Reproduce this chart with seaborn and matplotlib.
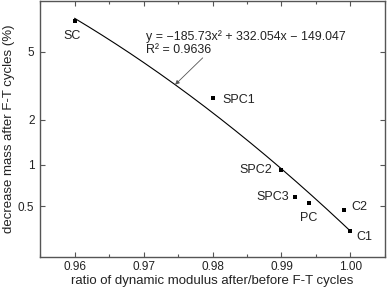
import matplotlib
matplotlib.use("Agg")
import matplotlib.pyplot as plt
from matplotlib.ticker import MultipleLocator, NullLocator
from statistics import NormalDist
import numpy as np
import pandas as pd
import seaborn as sns

# data
samples = ["SC", "SPC1", "SPC2", "SPC3", "PC", "C2", "C1"]
modulus_ratio = [0.960, 0.980, 0.990, 0.992, 0.994, 0.999, 1.000]
mass_loss = [7.2, 2.72, 0.92, 0.59, 0.525, 0.47, 0.323]

y_ticks = [0.5, 1, 2, 5]
y_ticklabels = ["0.5", "1", "2", "5"]
x_ticks = [0.96, 0.97, 0.98, 0.99, 1.00]
x_ticklabels = ["0.96", "0.97", "0.98", "0.99", "1.00"]

eq_text = "y = \u2212185.73x\u00b2 + 332.054x \u2212 149.047"
r2_text = "R\u00b2 = 0.9636"

df = pd.DataFrame({"sample": samples, "ratio": modulus_ratio, "loss": mass_loss})

# probability (probit) axis, like Origin's "Probability" scale
nd = NormalDist()
_ppf = np.vectorize(nd.inv_cdf, otypes=[float])
_cdf = np.vectorize(nd.cdf, otypes=[float])


def forward(v):
    p = np.clip(np.asarray(v, dtype=float) / 100.0, 1e-9, 1 - 1e-9)
    return _ppf(p)


def inverse(z):
    return _cdf(np.asarray(z, dtype=float)) * 100.0


# quadratic trend line fitted in probit space
coef = np.polyfit(df["ratio"], forward(df["loss"]), 2)
fit_x = np.linspace(df["ratio"].min(), df["ratio"].max(), 200)
fit = pd.DataFrame({"ratio": fit_x, "loss": inverse(np.polyval(coef, fit_x))})

sns.set_style("ticks")
plt.rcParams["font.family"] = ["Liberation Sans", "DejaVu Sans"]
txt = "#222222"
frame = "#555555"

fig = plt.figure(figsize=(3.87, 2.9), dpi=100)
ax = fig.add_axes([0.1034, 0.1155, 0.8914, 0.881])
ax.set_yscale("function", functions=(forward, inverse))

sns.lineplot(data=fit, x="ratio", y="loss", color="black", lw=0.8, ax=ax)
sns.scatterplot(data=df, x="ratio", y="loss", marker="s", s=12, color="black",
                edgecolor="black", linewidth=0, ax=ax, zorder=3)

# point labels
offsets = {
    "SC": (-1.7, -11, "center"),
    "SPC1": (7.2, -1.2, "left"),
    "SPC2": (-6.5, 0, "right"),
    "SPC3": (-4.3, 0, "right"),
    "PC": (0, -10.5, "center"),
    "C2": (5.8, 1.7, "left"),
    "C1": (4.1, -4.3, "left"),
}
for s, xv, yv in zip(samples, modulus_ratio, mass_loss):
    dx, dy, ha = offsets[s]
    ax.annotate(s, (xv, yv), xytext=(dx, dy), textcoords="offset points",
                ha=ha, va="center", fontsize=9, color=txt)

# equation and arrow
ax.text(0.97035, 6.0, eq_text, fontsize=8.9, color=txt, va="center", ha="left")
ax.text(0.97035, 5.1, r2_text, fontsize=8.9, color=txt, va="center", ha="left")
tip_x = 0.97458
tip_y = inverse(np.polyval(coef, tip_x))
ax.annotate("", xy=(tip_x, tip_y), xytext=(0.97858, 4.62),
            arrowprops=dict(arrowstyle="-|>", color="#555555", lw=0.6,
                            mutation_scale=6, shrinkA=0, shrinkB=0))

ax.set_xlim(0.955, 1.005)
ax.set_ylim(0.2, 9)
ax.set_xticks(x_ticks)
ax.set_xticklabels(x_ticklabels)
ax.xaxis.set_minor_locator(MultipleLocator(0.005))
ax.set_yticks(y_ticks)
ax.set_yticklabels(y_ticklabels)
ax.yaxis.set_minor_locator(NullLocator())

ax.tick_params(which="both", direction="in", top=True, right=True,
               color=frame, width=0.8, labelsize=8.5, labelcolor=txt)
ax.tick_params(which="major", length=3.5)
ax.tick_params(axis="x", which="major", pad=3.5)
ax.tick_params(axis="y", which="major", pad=4)
ax.tick_params(which="minor", length=2)
for sp in ax.spines.values():
    sp.set_color(frame)
    sp.set_linewidth(1.0)

ax.set_xlabel("ratio of dynamic modulus after/before F-T cycles", fontsize=9.5,
              color=txt, labelpad=1.5)
ax.set_ylabel("decrease mass after F-T cycles (%)", fontsize=9.5, color=txt,
              labelpad=2)

fig.savefig("out.png", dpi=100)
